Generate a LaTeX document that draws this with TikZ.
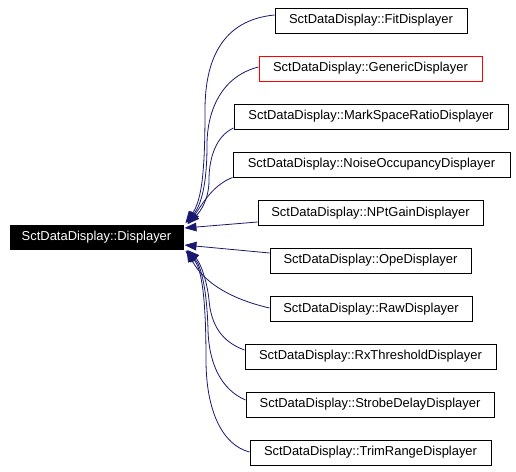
\documentclass[tikz,border=0pt]{standalone}
\usepackage{fontspec}
\setmainfont{Liberation Sans}
\usetikzlibrary{arrows.meta,calc}
\definecolor{edgeblue}{HTML}{191970}
\begin{document}
\begin{tikzpicture}[x=0.75pt,y=-0.75pt]
\tikzset{
  cls/.style={draw=black,line width=0.7pt,fill=white,minimum height=18.75pt,inner sep=0pt,font=\fontsize{9.7pt}{11pt}\selectfont},
  redcls/.style={cls,draw=red},
  base/.style={cls,fill=black,text=white,minimum height=18pt},
  inh/.style={draw=edgeblue,line width=0.6pt,-{Triangle[length=9pt,width=6.5pt,fill=edgeblue]}},
}
\useasboundingbox (0,0) rectangle (516,471);
\node[base,minimum width={173*0.75pt}] (disp) at (96.5,237) {SctDataDisplay::Displayer};
\node[cls,minimum width={192*0.75pt}] (fit) at (371,20.5) {SctDataDisplay::FitDisplayer};
\node[redcls,minimum width={223*0.75pt}] (gen) at (370.5,68.5) {SctDataDisplay::GenericDisplayer};
\node[cls,minimum width={274*0.75pt}] (msr) at (371,116.5) {SctDataDisplay::MarkSpaceRatioDisplayer};
\node[cls,minimum width={277*0.75pt}] (noise) at (371.5,164.5) {SctDataDisplay::NoiseOccupancyDisplayer};
\node[cls,minimum width={225*0.75pt}] (npt) at (370.5,213) {SctDataDisplay::NPtGainDisplayer};
\node[cls,minimum width={201*0.75pt}] (ope) at (370.5,260.5) {SctDataDisplay::OpeDisplayer};
\node[cls,minimum width={202*0.75pt}] (raw) at (371,309) {SctDataDisplay::RawDisplayer};
\node[cls,minimum width={251*0.75pt}] (rx) at (370.5,356.5) {SctDataDisplay::RxThresholdDisplayer};
\node[cls,minimum width={248*0.75pt}] (strobe) at (370,404.5) {SctDataDisplay::StrobeDelayDisplayer};
\node[cls,minimum width={241*0.75pt}] (trim) at (370.5,452.5) {SctDataDisplay::TrimRangeDisplayer};

% upper group
\draw[inh] ($(fit.west)+(0,-5.5)$) .. controls (222,20) and (205,60) .. (205,110)
  .. controls (205,170) and (202,200) .. ($(disp.east)+(2,-14)$);
\draw[inh] ($(gen.west)+(0,-1.5)$) .. controls (222,76) and (207,110) .. (207,145)
  .. controls (207,185) and (201,205) .. ($(disp.east)+(3,-14)$);
\draw[inh] ($(msr.west)+(0,11.5)$) .. controls (216,136) and (209,158) .. (209,180)
  .. controls (209,200) and (200,212) .. ($(disp.east)+(4,-13)$);
\draw[inh] (noise.south west) .. controls (213,185) and (203,203) .. ($(disp.east)+(5,-13)$);
% straight
\draw[inh] ($(npt.west)+(0,9)$) -- ($(disp.east)+(1,-9)$);
\draw[inh] ($(ope.west)+(0,-7.5)$) -- ($(disp.east)+(1,8)$);
% lower group
\draw[inh] ($(raw.west)+(0,-1)$) .. controls (235,300) and (205,285) .. ($(disp.east)+(3,13)$);
\draw[inh] ($(rx.west)+(0,-6.5)$) .. controls (222,342) and (211,325) .. (209,300)
  .. controls (207,280) and (200,262) .. ($(disp.east)+(4,13)$);
\draw[inh] ($(strobe.west)+(0,-4.5)$) .. controls (222,390) and (209,365) .. (208,330)
  .. controls (207,290) and (201,265) .. ($(disp.east)+(3,14)$);
\draw[inh] ($(trim.west)+(0,-0.5)$) .. controls (222,445) and (206,410) .. (206,360)
  .. controls (206,300) and (202,268) .. ($(disp.east)+(2,14)$);
\end{tikzpicture}
\end{document}
